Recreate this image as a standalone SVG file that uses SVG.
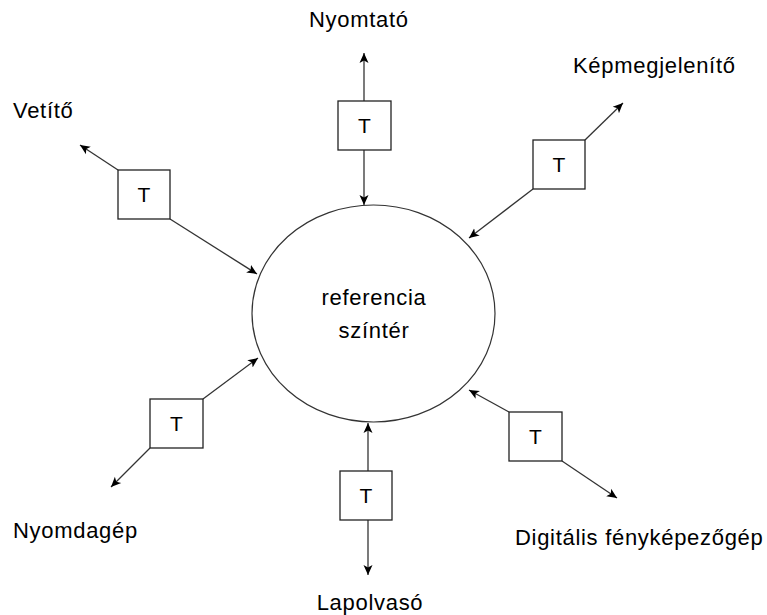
<svg xmlns="http://www.w3.org/2000/svg" width="767" height="615" viewBox="0 0 767 615">
  <style>
    .lbl { font-family: "Liberation Sans", Arial, sans-serif; font-size: 22px; letter-spacing: 0.7px; fill: #000; }
    .box { fill: #fff; stroke: #222; stroke-width: 1.3; }
    .t { font-family: "Liberation Sans", Arial, sans-serif; font-size: 21px; fill: #000; text-anchor: middle; }
    .conn { stroke: #333; stroke-width: 1.3; fill: none; marker-end: url(#arrow); }
  </style>
  <defs>
    <marker id="arrow" viewBox="0 0 10 10" refX="10" refY="5" markerWidth="10" markerHeight="10" markerUnits="userSpaceOnUse" orient="auto">
      <path d="M0,0.5 L10,5 L0,9.5 L2.5,5 Z" fill="#000"/>
    </marker>
  </defs>

  <rect width="767" height="615" fill="#fff"/>

  <!-- central scene -->
  <g id="scene">
    <ellipse cx="373.5" cy="313.5" rx="121.5" ry="108.5" fill="#fff" stroke="#333" stroke-width="1.2"/>
    <text class="lbl" x="374" y="305" text-anchor="middle">referencia</text>
    <text class="lbl" x="374" y="338" text-anchor="middle">színtér</text>
  </g>

  <!-- connectors -->
  <g id="connectors">
    <line class="conn" x1="364" y1="101" x2="364" y2="53"/>
    <line class="conn" x1="364" y1="150" x2="364" y2="205"/>
    <line class="conn" x1="585" y1="140" x2="623" y2="103"/>
    <line class="conn" x1="533" y1="189" x2="469" y2="238"/>
    <line class="conn" x1="118" y1="170" x2="80" y2="145"/>
    <line class="conn" x1="170" y1="219" x2="257" y2="274"/>
    <line class="conn" x1="203" y1="399" x2="258" y2="358"/>
    <line class="conn" x1="150" y1="448" x2="111" y2="487"/>
    <line class="conn" x1="509" y1="412" x2="469" y2="390"/>
    <line class="conn" x1="562" y1="461" x2="617" y2="498"/>
    <line class="conn" x1="368" y1="471" x2="368" y2="423"/>
    <line class="conn" x1="368" y1="520" x2="368" y2="575"/>
  </g>

  <!-- printer -->
  <g id="nyomtato">
    <rect class="box" x="338" y="101" width="53" height="49"/>
    <text class="t" x="364.5" y="133">T</text>
    <text class="lbl" x="309" y="27">Nyomtató</text>
  </g>

  <!-- display -->
  <g id="kepmegjelenito">
    <rect class="box" x="533" y="140" width="52" height="49"/>
    <text class="t" x="559" y="172">T</text>
    <text class="lbl" x="573" y="73">Képmegjelenítő</text>
  </g>

  <!-- projector -->
  <g id="vetito">
    <rect class="box" x="118" y="170" width="52" height="49"/>
    <text class="t" x="144" y="202">T</text>
    <text class="lbl" x="13" y="118">Vetítő</text>
  </g>

  <!-- printing press -->
  <g id="nyomdagep">
    <rect class="box" x="150" y="399" width="53" height="49"/>
    <text class="t" x="176.5" y="431">T</text>
    <text class="lbl" x="13" y="538">Nyomdagép</text>
  </g>

  <!-- digital camera -->
  <g id="fenykepezogep">
    <rect class="box" x="509" y="412" width="53" height="49"/>
    <text class="t" x="535.5" y="444">T</text>
    <text class="lbl" x="515" y="545">Digitális fényképezőgép</text>
  </g>

  <!-- scanner -->
  <g id="lapolvaso">
    <rect class="box" x="340" y="471" width="52" height="49"/>
    <text class="t" x="366" y="503">T</text>
    <text class="lbl" x="370" y="610" text-anchor="middle">Lapolvasó</text>
  </g>
</svg>
